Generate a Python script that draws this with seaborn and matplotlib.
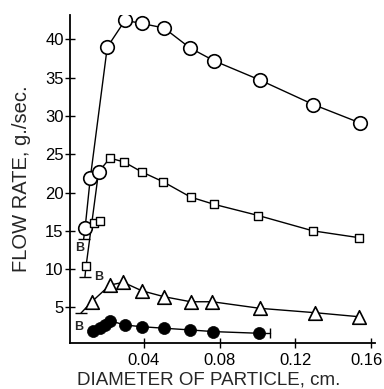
import matplotlib
matplotlib.use("Agg")
import matplotlib.pyplot as plt
import matplotlib.transforms as mtransforms
import seaborn as sns

# Open circles (highest flow series)
circle_x = [0.0089, 0.0116, 0.0160, 0.0206, 0.0300, 0.0388, 0.0506, 0.0643, 0.0772, 0.1013, 0.1295, 0.1542]
circle_y = [15.4, 21.85, 22.7, 39.0, 42.5, 42.1, 41.5, 38.9, 37.2, 34.7, 31.5, 29.1]

# Open squares
square_x = [0.0094, 0.0136, 0.0168, 0.0220, 0.0294, 0.0388, 0.0502, 0.0647, 0.0772, 0.1004, 0.1292, 0.1537]
square_y = [10.4, 16.0, 16.3, 24.5, 24.0, 22.7, 21.4, 19.4, 18.45, 17.0, 15.0, 14.1]

# Open triangles
tri_x = [0.0124, 0.0220, 0.0291, 0.0388, 0.0506, 0.0647, 0.0761, 0.1013, 0.1304, 0.1538]
tri_y = [5.73, 7.91, 8.27, 7.17, 6.39, 5.73, 5.73, 4.87, 4.30, 3.77]

# Filled circles
dot_x = [0.0132, 0.0168, 0.0194, 0.0220, 0.0300, 0.0388, 0.0506, 0.0643, 0.0767, 0.1008]
dot_y = [1.95, 2.26, 2.69, 3.25, 2.69, 2.47, 2.27, 2.05, 1.83, 1.61]
dot_xerr_right = 0.1066

# Low-end tails (curve end points) and "B" labels
tail_start = [(0.0089, 15.4), (0.0094, 10.4), (0.0124, 5.73)]
tail_end = [(0.0081, 13.9), (0.0088, 9.0), (0.0067, 4.25)]
b_x = [0.0058, 0.0162, 0.0057]
b_y = [12.7, 9.0, 2.47]

x_ticks = [0.04, 0.08, 0.12, 0.16]
x_ticklabels = ["0.04", "0.08", "0.12", "0.16"]
y_ticks = [5, 10, 15, 20, 25, 30, 35, 40]

sns.set_style("ticks")
plt.rcParams["font.family"] = ["Liberation Sans", "DejaVu Sans"]

fig = plt.figure(figsize=(3.84, 3.89), dpi=100)
ax = fig.add_axes([70 / 384, 46 / 389, 305 / 384, 328 / 389])

lw = 1.0
line_kw = dict(color="black", linewidth=lw, sort=False, estimator=None, legend=False, ax=ax)

# Circle curve: skips the point at index 2, which sits on the square curve
c_idx = [0, 1] + list(range(3, len(circle_x)))
sns.lineplot(x=[circle_x[i] for i in c_idx], y=[circle_y[i] for i in c_idx], **line_kw)

# Square curve: rises from the lowest square through the circle at index 2
s_line_x = [square_x[0], circle_x[2]] + square_x[3:]
s_line_y = [square_y[0], circle_y[2]] + square_y[3:]
sns.lineplot(x=s_line_x, y=s_line_y, **line_kw)

sns.lineplot(x=tri_x, y=tri_y, **line_kw)
sns.lineplot(x=dot_x, y=dot_y, **line_kw)

# Horizontal range on the last filled point
ax.plot([dot_x[-1], dot_xerr_right], [dot_y[-1], dot_y[-1]], color="black", lw=lw)
ax.plot([dot_xerr_right], [dot_y[-1]], marker="|", color="black", markersize=7, mew=1.0)

# Tails with end ticks
for (x0, y0), (x1, y1) in zip(tail_start, tail_end):
    ax.plot([x0, x1], [y0, y1], color="black", lw=lw)
    ax.plot([x1], [y1], marker="_", color="black", markersize=8, mew=1.0)

# Markers
sns.scatterplot(x=circle_x, y=circle_y, marker="o", s=95, facecolor="white",
                edgecolor="black", linewidth=1.2, ax=ax, zorder=5, legend=False)
sns.scatterplot(x=square_x, y=square_y, marker="s", s=28, facecolor="white",
                edgecolor="black", linewidth=1.0, ax=ax, zorder=5, legend=False)
sns.scatterplot(x=tri_x, y=tri_y, marker="^", s=95, facecolor="white",
                edgecolor="black", linewidth=1.2, ax=ax, zorder=5, legend=False)
sns.scatterplot(x=dot_x, y=dot_y, marker="o", s=75, color="black",
                edgecolor="black", linewidth=0.5, ax=ax, zorder=5, legend=False)

for bx, by in zip(b_x, b_y):
    ax.text(bx, by, "B", fontsize=9, fontweight="bold", ha="center", va="center")

ax.set_xlim(0.0009, 0.1621)
ax.set_ylim(0.34, 43.2)
ax.set_xticks(x_ticks)
ax.set_xticklabels(x_ticklabels)
ax.set_yticks(y_ticks)
ax.tick_params(axis="both", direction="inout", length=7, width=1.0, labelsize=12, colors="black")
ax.tick_params(axis="y", pad=1)
ax.tick_params(axis="x", pad=4)

# Pull the last x tick label in from the right edge
last = ax.get_xticklabels()[-1]
last.set_transform(last.get_transform() + mtransforms.ScaledTranslation(-5 / 100, 0, fig.dpi_scale_trans))

sns.despine(ax=ax)
for side in ("left", "bottom"):
    ax.spines[side].set_linewidth(1.3)
    ax.spines[side].set_color("black")

ax.set_xlabel("DIAMETER OF PARTICLE, cm.", fontsize=13.5, labelpad=1)
ax.xaxis.set_label_coords(0.455, -0.088)
ax.set_ylabel("FLOW RATE, g./sec.", fontsize=14.5, labelpad=10)

fig.savefig("out.png", dpi=100, facecolor="white")
